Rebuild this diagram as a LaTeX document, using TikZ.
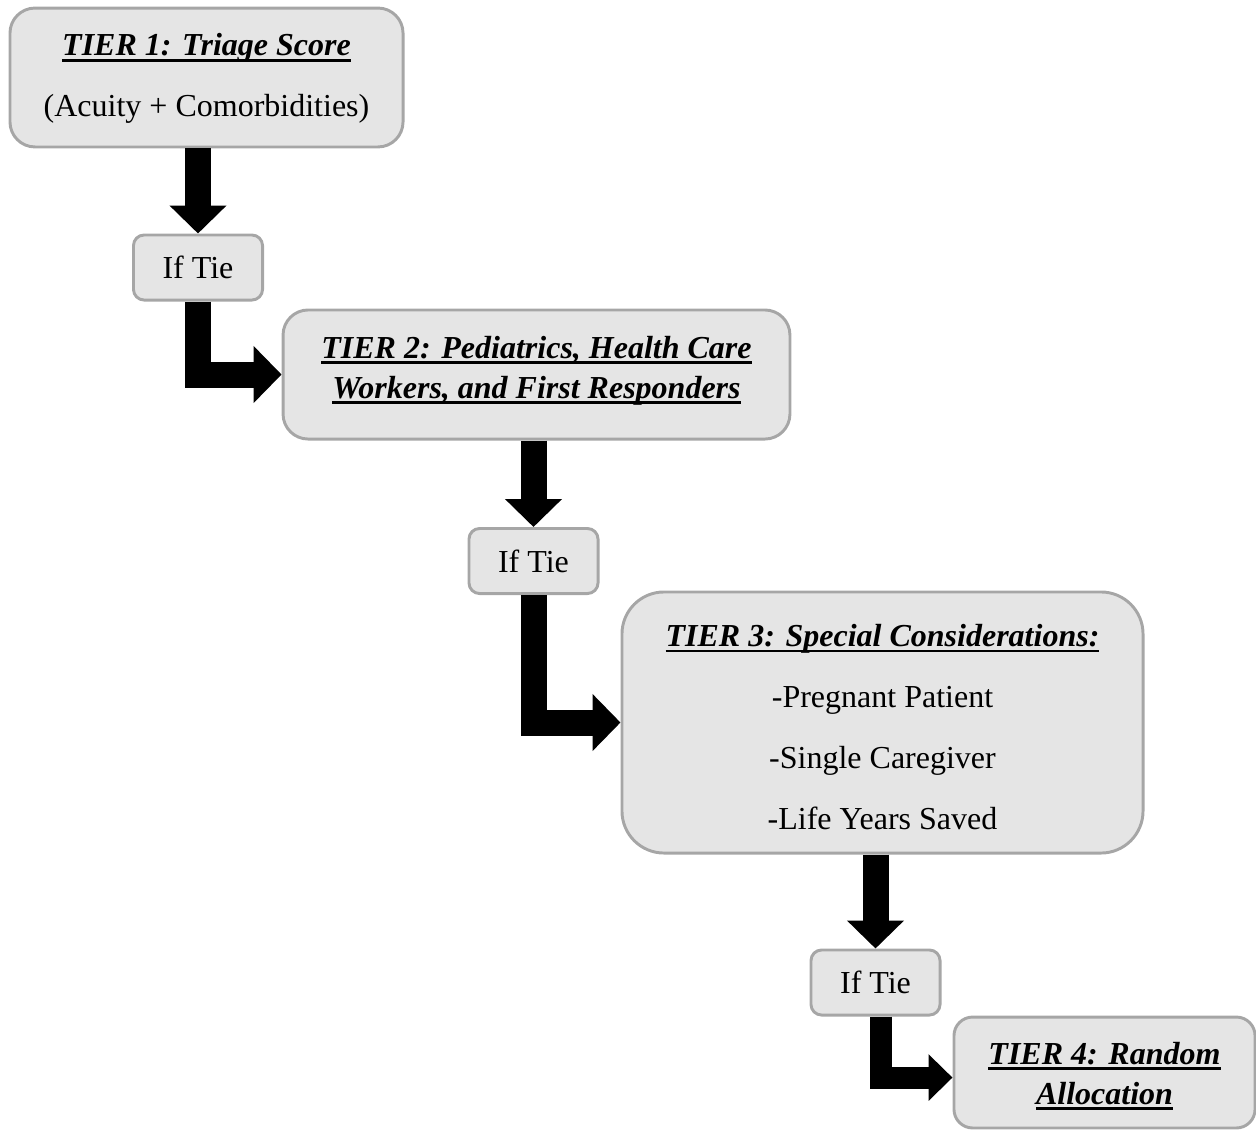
\documentclass[tikz,border=0pt]{standalone}
\usepackage{fontspec}
\setmainfont{Liberation Serif}
\usetikzlibrary{arrows.meta}
% bold italic heading with a heavy underline
\newsavebox{\hdbox}
\newcommand{\hd}[1]{\sbox{\hdbox}{\textbf{\textit{#1}}}%
  \leavevmode\rlap{\rule[-2.2pt]{\wd\hdbox}{1.1pt}}\usebox{\hdbox}}
% invisible struts that move a text block down (extra height) or up (extra depth)
\newcommand{\uph}[1]{\rule{0pt}{#1}}
\newcommand{\dnd}[1]{\rule[-#1]{0pt}{0pt}}
\begin{document}
\begin{tikzpicture}[x=0.375pt,y=-0.375pt,
  box/.style={draw=black!35, fill=black!10, line width=1.1pt,
    rounded corners=9.4pt, align=center, inner sep=0pt,
    font=\fontsize{12}{15}\selectfont},
  tie/.style={box, rounded corners=4pt, minimum width=48.4pt, minimum height=24.4pt},
  flow/.style={line width=9.75pt, line join=miter, -{Triangle[width=20.8pt,length=10.5pt]}},
  flowsm/.style={line width=8.25pt, line join=miter, -{Triangle[width=17pt,length=9pt]}}
]
\useasboundingbox (0,0) rectangle (1256,1130);

% tier boxes
\node[box, minimum width=147.4pt, minimum height=52.1pt] (t1) at (206.5,77.5)
  {\uph{9.3pt}\hd{TIER 1: Triage Score}\\[7.85pt](Acuity + Comorbidities)};
\node[box, minimum width=190.1pt, minimum height=48.4pt] (t2) at (536.5,374.5)
  {\hd{TIER 2: Pediatrics, Health Care}\\\hd{Workers, and First Responders}\dnd{5.6pt}};
\node[box, rounded corners=15.75pt, minimum width=195.4pt, minimum height=97.9pt] (t3) at (882.5,722.5)
  {\uph{11.6pt}\hd{TIER 3: Special Considerations:}\\[7.8pt]-Pregnant Patient\\[7.8pt]-Single Caregiver\\[7.8pt]-Life Years Saved};
\node[box, rounded corners=7pt, minimum width=112.9pt, minimum height=41.6pt] (t4) at (1104.5,1072.5)
  {\uph{11.2pt}\hd{TIER 4: Random}\\\hd{Allocation}};

% tie-break boxes
\node[tie] (k1) at (198,267.5) {If Tie};
\node[tie] (k2) at (533.5,561) {If Tie};
\node[tie] (k3) at (875.5,982.5) {If Tie};

% connectors
\draw[flow] (k1.north |- t1.south) -- (k1.north);
\draw[flow] (k1.south) |- (t2.west);
\draw[flow] (k2.north |- t2.south) -- (k2.north);
\draw[flow] (k2.south) |- (t3.west);
\draw[flow] (k3.north |- t3.south) -- (k3.north);
\draw[flowsm] ([xshift=2pt]k3.south) |- ([yshift=-1.9pt]t4.west);
\end{tikzpicture}
\end{document}
